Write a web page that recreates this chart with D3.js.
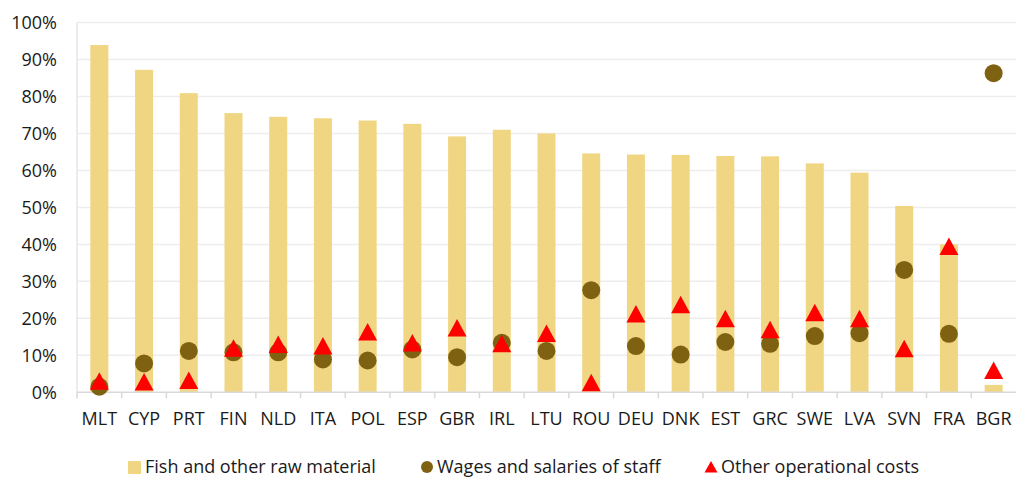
<!DOCTYPE html>
<html>
<head>
<meta charset="utf-8">
<script src="https://d3js.org/d3.v7.min.js"></script>
<style>
  body { margin: 0; background: #fff; }
  svg { display: block; font-family: "Open Sans", "Noto Sans", sans-serif; }
</style>
</head>
<body>
<script>
  // data
  var countries = ['MLT','CYP','PRT','FIN','NLD','ITA','POL','ESP','GBR','IRL','LTU',
                   'ROU','DEU','DNK','EST','GRC','SWE','LVA','SVN','FRA','BGR'];
  var rawMaterial = [93.9, 87.2, 80.9, 75.5, 74.5, 74.1, 73.5, 72.6, 69.2, 71.0, 70.0,
                     64.6, 64.3, 64.2, 63.9, 63.8, 61.9, 59.4, 50.4, 40.0, 2.0];
  var wages = [1.5, 7.8, 11.2, 10.8, 10.8, 8.9, 8.6, 11.6, 9.5, 13.4, 11.2,
               27.6, 12.5, 10.2, 13.6, 13.1, 15.2, 16.0, 33.1, 15.8, 86.3];
  var otherCosts = [3.0, 2.8, 3.2, 11.9, 12.9, 12.5, 16.3, 13.3, 17.4, 13.1, 15.9,
                    2.6, 21.2, 23.7, 19.9, 16.9, 21.5, 19.9, 11.8, 39.4, 5.9];
  var yTicks = [0, 10, 20, 30, 40, 50, 60, 70, 80, 90, 100];
  var legendLabels = ['Fish and other raw material', 'Wages and salaries of staff', 'Other operational costs'];

  var width = 1016, height = 478;
  var plotLeft = 77, plotRight = 1016, plotTop = 22.5, plotBottom = 392.3;
  var barColor = '#F0D682', dotColor = '#7F6112', triColor = '#FF0000';
  var fontSize = 18;

  var svg = d3.select('body').append('svg')
    .attr('width', width).attr('height', height);

  var x = d3.scaleBand().domain(countries).range([plotLeft, plotRight]);
  var y = d3.scaleLinear().domain([0, 100]).range([plotBottom, plotTop]);
  var barW = 18;
  function cx(i) { return x(countries[i]) + x.bandwidth() / 2; }

  // gridlines
  svg.append('g').selectAll('line')
    .data(yTicks.filter(function(d) { return d > 0; }))
    .enter().append('line')
    .attr('x1', plotLeft).attr('x2', plotRight)
    .attr('y1', function(d) { return y(d); })
    .attr('y2', function(d) { return y(d); })
    .attr('stroke', '#EDEDED').attr('stroke-width', 1.5);

  // y axis line
  svg.append('line')
    .attr('x1', plotLeft).attr('x2', plotLeft)
    .attr('y1', y(100)).attr('y2', y(0))
    .attr('stroke', '#E6E6E6').attr('stroke-width', 1.5);

  // y labels
  svg.append('g').selectAll('text')
    .data(yTicks)
    .enter().append('text')
    .attr('x', 57)
    .attr('y', function(d) { return y(d); })
    .attr('dy', '0.35em')
    .attr('text-anchor', 'end')
    .attr('font-size', fontSize)
    .attr('fill', '#1a1a1a')
    .text(function(d) { return d + '%'; });

  // bars
  svg.append('g').selectAll('rect')
    .data(rawMaterial)
    .enter().append('rect')
    .attr('x', function(d, i) { return cx(i) - barW / 2; })
    .attr('y', function(d) { return y(d); })
    .attr('width', barW)
    .attr('height', function(d) { return y(0) - y(d); })
    .attr('fill', barColor);

  // x axis line and ticks between categories
  svg.append('line')
    .attr('x1', plotLeft).attr('x2', plotRight)
    .attr('y1', y(0)).attr('y2', y(0))
    .attr('stroke', '#D9D9D9').attr('stroke-width', 1.5);
  svg.append('g').selectAll('line')
    .data(countries)
    .enter().append('line')
    .attr('x1', function(d) { return x(d); })
    .attr('x2', function(d) { return x(d); })
    .attr('y1', y(0)).attr('y2', y(0) + 6)
    .attr('stroke', '#D9D9D9').attr('stroke-width', 1.5);

  // x labels
  svg.append('g').selectAll('text')
    .data(countries)
    .enter().append('text')
    .attr('x', function(d, i) { return cx(i); })
    .attr('y', 419)
    .attr('dy', '0.35em')
    .attr('text-anchor', 'middle')
    .attr('font-size', fontSize)
    .attr('fill', '#1a1a1a')
    .text(function(d) { return d; });

  // wages circles
  svg.append('g').selectAll('circle')
    .data(wages)
    .enter().append('circle')
    .attr('cx', function(d, i) { return cx(i); })
    .attr('cy', function(d) { return y(d); })
    .attr('r', 9)
    .attr('fill', dotColor);

  // other costs triangles
  svg.append('g').selectAll('path')
    .data(otherCosts)
    .enter().append('path')
    .attr('d', 'M0,-9L9.5,8.5L-9.5,8.5Z')
    .attr('transform', function(d, i) { return 'translate(' + cx(i) + ',' + y(d) + ')'; })
    .attr('fill', triColor);

  // legend
  var leg = svg.append('g').attr('font-size', fontSize).attr('fill', '#1a1a1a');
  leg.append('rect').attr('x', 128).attr('y', 461).attr('width', 13).attr('height', 13).attr('fill', barColor);
  leg.append('text').attr('x', 145).attr('y', 467).attr('dy', '0.35em').text(legendLabels[0]);
  leg.append('circle').attr('cx', 427).attr('cy', 467).attr('r', 6).attr('fill', dotColor);
  leg.append('text').attr('x', 437).attr('y', 467).attr('dy', '0.35em').text(legendLabels[1]);
  leg.append('path').attr('d', 'M0,-6L6.5,5.5L-6.5,5.5Z').attr('transform', 'translate(711,467)').attr('fill', triColor);
  leg.append('text').attr('x', 721).attr('y', 467).attr('dy', '0.35em').text(legendLabels[2]);
</script>
</body>
</html>
